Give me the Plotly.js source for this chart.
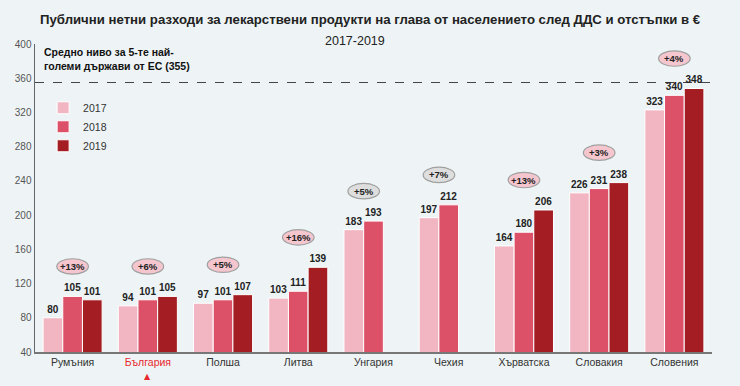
<!DOCTYPE html>
<html>
<head>
<meta charset="utf-8">
<script src="https://cdn.plot.ly/plotly-3.0.1.min.js"></script>
<style>html,body{margin:0;padding:0;background:#eef4f6;}#chart{width:740px;height:386px;}</style>
</head>
<body>
<div id="chart"></div>
<script>
const categories = ['Румъния','България','Полша','Литва','Унгария','Чехия','Хърватска','Словакия','Словения'];
const years = ['2017','2018','2019'];
const v2017 = [80, 94, 97, 103, 183, 197, 164, 226, 323];
const v2018 = [105, 101, 101, 111, 193, 212, 180, 231, 340];
const v2019 = [101, 105, 107, 139, null, null, 206, 238, 348];
const growth = ['+13%','+6%','+5%','+16%','+5%','+7%','+13%','+3%','+4%'];
const growthGrey = [false,false,false,false,true,true,false,false,false];
const benchmark = 355;
const yTicks = [40, 80, 120, 160, 200, 240, 280, 320, 360, 400];
const highlight = 'България';

const colors = ['#f2b6c2', '#dc5068', '#a31d22'];
const FONT = '"Liberation Sans", Arial, sans-serif';
const series = [v2017, v2018, v2019];

const traces = series.map((vals, i) => ({
  type: 'bar',
  name: years[i],
  x: categories,
  y: vals,
  marker: {color: colors[i], line: {color: '#ffffff', width: 1}},
  text: vals.map(v => v == null ? '' : String(v)),
  textposition: 'outside',
  textfont: {family: FONT, size: 10, color: '#222', weight: 'bold'},
  cliponaxis: false,
  hoverinfo: 'x+y+name'
}));

const shapes = [{
  type: 'line', xref: 'paper', yref: 'y', x0: 0, x1: 1, y0: benchmark, y1: benchmark,
  line: {color: '#444', width: 1.2, dash: 'dash'}, layer: 'below'
}];
const annotations = [];
const barW = 0.26; // approx bar width in category units
categories.forEach((c, i) => {
  const vals = series.map(s => s[i]).filter(v => v != null);
  const nMissing = series.length - vals.length;
  const cx = i - nMissing * barW / 2;
  const cy = Math.max(...vals) + 35;
  shapes.push({
    type: 'circle', xref: 'x', yref: 'y',
    x0: cx - 0.21, x1: cx + 0.21, y0: cy - 9, y1: cy + 9,
    fillcolor: growthGrey[i] ? '#dedede' : '#f5c6ce',
    line: {color: '#a0a0a0', width: 1.2}, layer: 'above'
  });
  annotations.push({
    xref: 'x', yref: 'y', x: cx, y: cy, text: '<b>' + growth[i] + '</b>',
    showarrow: false, font: {family: FONT, size: 9.5, color: '#222'}
  });
});
annotations.push({
  xref: 'paper', yref: 'paper', x: 0.01, y: 1.0, xanchor: 'left', yanchor: 'top', align: 'left',
  text: '<b>Средно ниво за 5-те най-<br>големи държави от ЕС (355)</b>',
  showarrow: false, font: {family: FONT, size: 10.5, color: '#111'}
});
annotations.push({
  xref: 'paper', yref: 'paper', x: (355 - 35) / 677, y: 1.0, xanchor: 'center', yanchor: 'bottom',
  yshift: -6,
  text: '2017-2019', showarrow: false, font: {family: FONT, size: 12.5, color: '#222'}
});
annotations.push({
  xref: 'x', yref: 'paper', x: categories.indexOf(highlight), y: -0.062, xanchor: 'center', yanchor: 'top',
  text: '▲', showarrow: false, borderpad: 0, font: {family: 'DejaVu Sans', size: 8, color: '#e8282d'}
});

const layout = {
  width: 740, height: 386,
  margin: {l: 35, r: 28, t: 44, b: 34},
  paper_bgcolor: '#eef4f6',
  plot_bgcolor: '#eef4f6',
  title: {
    text: '<b>Публични нетни разходи за лекарствени продукти на глава от населението след ДДС и отстъпки в €</b>',
    x: 40 / 740, xanchor: 'left', y: 0.95, yanchor: 'middle',
    font: {family: FONT, size: 13.2, color: '#222'}
  },
  barmode: 'group',
  bargap: 0.215,
  bargroupgap: 0,
  showlegend: true,
  legend: {
    x: 0.012, y: 0.84, xanchor: 'left', yanchor: 'top',
    bgcolor: 'rgba(0,0,0,0)', font: {family: FONT, size: 10.5, color: '#333'},
    tracegroupgap: 0, itemwidth: 30
  },
  xaxis: {
    type: 'category',
    tickvals: categories,
    ticktext: categories.map(c => c === highlight ? '<span style="color:#e8282d">' + c + '</span>' : c),
    tickfont: {family: FONT, size: 10.5, color: '#333'},
    showline: true, linecolor: '#777', linewidth: 1.5,
    ticks: '', showgrid: false, zeroline: false,
    range: [-0.5, categories.length - 0.5]
  },
  yaxis: {
    range: [40, 400],
    tickvals: yTicks,
    ticktext: yTicks.map(String),
    tickfont: {family: FONT, size: 10, color: '#555'},
    showline: true, linecolor: '#666', linewidth: 1.5,
    ticks: '', showgrid: false, zeroline: false
  },
  shapes: shapes,
  annotations: annotations
};

Plotly.newPlot('chart', traces, layout, {displayModeBar: false, staticPlot: true});
</script>
</body>
</html>
